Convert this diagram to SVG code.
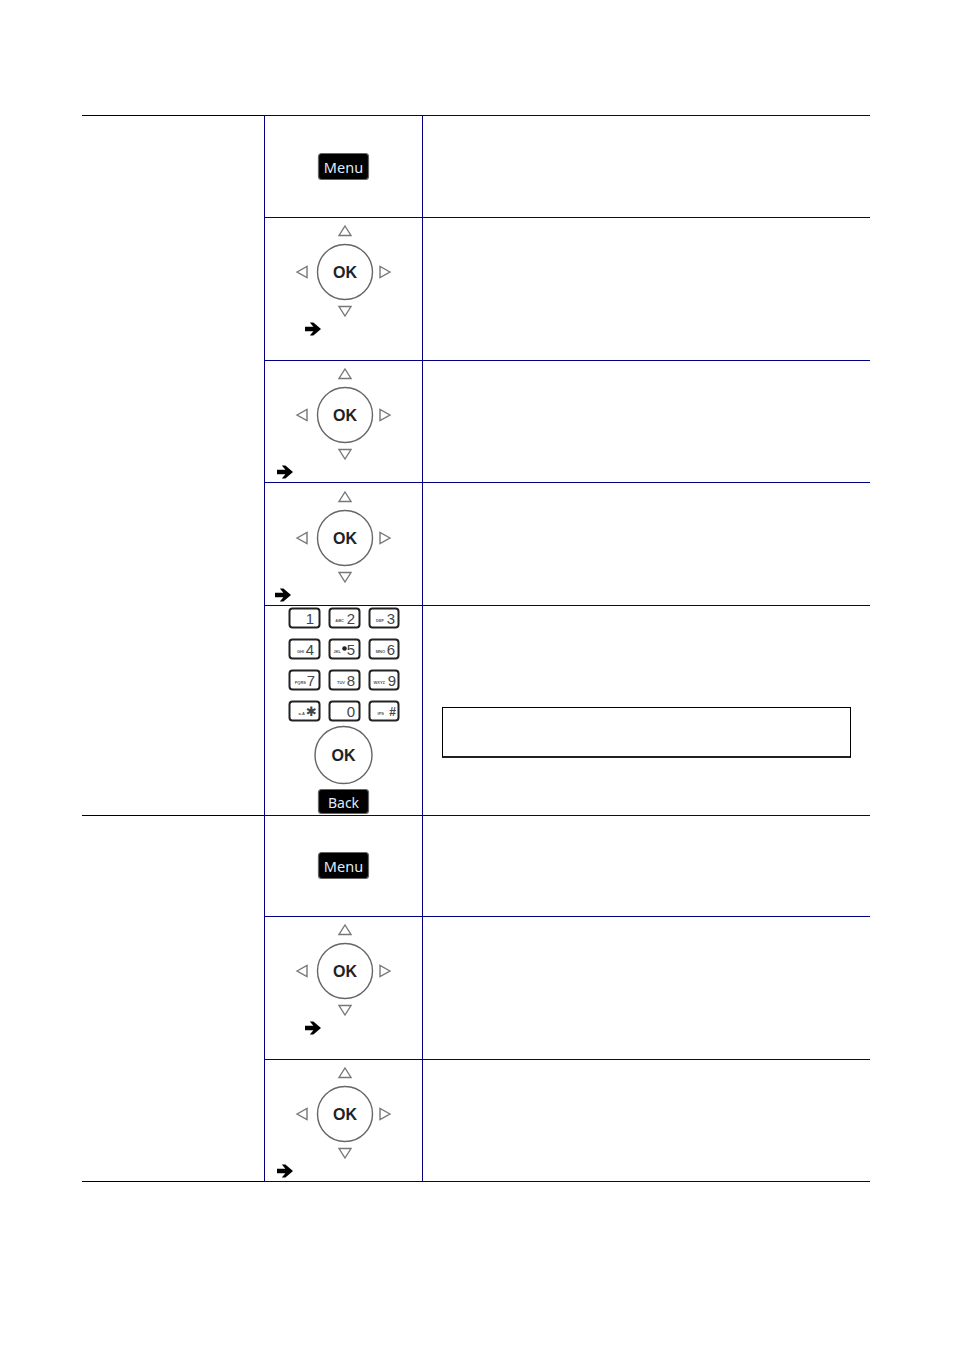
<svg xmlns="http://www.w3.org/2000/svg" width="954" height="1350" viewBox="0 0 954 1350">
<style>
.b{stroke:#000;stroke-width:1;fill:none}
.n{stroke:#000080;stroke-width:1;fill:none}
.ring{fill:#fff;stroke:#666;stroke-width:1.4}
.tri{fill:#fff;stroke:#777;stroke-width:1.4}
.ok{font-family:"Liberation Sans",Arial,sans-serif;font-weight:700;font-size:16px;fill:#222;text-anchor:middle}
.btn{fill:#000;stroke:#666;stroke-width:1.2}
.bt{font-family:"Noto Sans","Open Sans",sans-serif;font-size:14.5px;fill:#dfeafa;text-anchor:middle}
.key{fill:#fff;stroke:#222;stroke-width:2}
.d{font-family:"Liberation Sans",Arial,sans-serif;font-size:15px;fill:#444;text-anchor:end}
.s{font-family:"Liberation Sans",Arial,sans-serif;font-size:4px;font-weight:700;fill:#555;text-anchor:end}
</style>
<defs>
<path id="arrow" d="M-8,-2.2H0.4L-3.2,-6.6H0.4L8,0L0.4,6.6H-3.2L0.4,2.2H-8Z" fill="#000"/>
<g id="dpad">
<circle class="ring" cx="0" cy="0" r="27.5"/>
<text class="ok" x="0" y="5.7">OK</text>
<path class="tri" d="M0,-46L6,-36.5H-6Z"/>
<path class="tri" d="M0,44L6,34.5H-6Z"/>
<path class="tri" d="M-48,0L-38,-5.5V5.5Z"/>
<path class="tri" d="M45,0L35,-5.5V5.5Z"/>
</g>
<g id="menu">
<rect class="btn" x="318.5" y="0.5" width="50" height="26" rx="3"/>
<text class="bt" x="343.5" y="20">Menu</text>
</g>
</defs>
<rect width="954" height="1350" fill="#fff"/>
<g id="connectors">
<path class="b" d="M82,115.5H870M82,815.5H870M82,1181.5H870"/>
<path class="n" d="M264,115.5H870M264,217.5H870M264,360.5H870M264,482.5H870M264,605.5H870M264,815.5H870M264,916.5H870M264,1059.5H870M264,1181.5H870"/>
<path class="n" d="M264.5,115V1182M422.5,115V1182"/>
</g>
<g id="menu-1"><use href="#menu" y="153"/></g>
<g id="dpad-1"><use href="#dpad" x="345" y="272"/><use href="#arrow" x="313" y="329"/></g>
<g id="dpad-2"><use href="#dpad" x="345" y="415"/><use href="#arrow" x="285" y="472"/></g>
<g id="dpad-3"><use href="#dpad" x="345" y="538"/><use href="#arrow" x="283" y="595"/></g>
<g id="keypad">
<rect class="key" x="289.5" y="608.5" width="30" height="19" rx="3"/><text class="d" x="314" y="623.5">1</text>
<rect class="key" x="329.5" y="608.5" width="30" height="19" rx="3"/><text class="s" x="344" y="622">ABC</text><text class="d" x="355" y="623.5">2</text>
<rect class="key" x="369.5" y="608.5" width="29" height="19" rx="3"/><text class="s" x="384" y="622">DEF</text><text class="d" x="395" y="623.5">3</text>
<rect class="key" x="289.5" y="639.5" width="30" height="19" rx="3"/><text class="s" x="304" y="653">GHI</text><text class="d" x="314" y="654.5">4</text>
<rect class="key" x="329.5" y="639.5" width="30" height="19" rx="3"/><text class="s" x="341" y="653">JKL</text><circle cx="344.5" cy="648.5" r="2.3" fill="#222"/><text class="d" x="355" y="654.5">5</text>
<rect class="key" x="369.5" y="639.5" width="29" height="19" rx="3"/><text class="s" x="385" y="653">MNO</text><text class="d" x="395" y="654.5">6</text>
<rect class="key" x="289.5" y="670.5" width="30" height="19" rx="3"/><text class="s" x="306" y="684">PQRS</text><text class="d" x="315" y="685.5">7</text>
<rect class="key" x="329.5" y="670.5" width="30" height="19" rx="3"/><text class="s" x="345" y="684">TUV</text><text class="d" x="355" y="685.5">8</text>
<rect class="key" x="369.5" y="670.5" width="29" height="19" rx="3"/><text class="s" x="385" y="684">WXYZ</text><text class="d" x="396" y="685.5">9</text>
<rect class="key" x="289.5" y="701.5" width="30" height="19" rx="3"/><text class="s" x="305" y="715">a-A</text><text class="d" x="317" y="716" style="font-size:13px;font-family:'DejaVu Sans',sans-serif">✱</text>
<rect class="key" x="329.5" y="701.5" width="30" height="19" rx="3"/><text class="d" x="355" y="716.5">0</text>
<rect class="key" x="369.5" y="701.5" width="29" height="19" rx="3"/><text class="s" x="384" y="715">IPS</text><text class="d" x="396" y="715.5" style="font-size:12px;font-weight:700">#</text>
</g>
<g id="ok-key">
<circle class="ring" cx="343.5" cy="755" r="28.5"/>
<text class="ok" x="343.5" y="760.7">OK</text>
</g>
<g id="back"><rect class="btn" x="318.5" y="789.5" width="50" height="24" rx="3"/><text class="bt" x="343.5" y="807.5" style="font-size:14px">Back</text></g>
<g id="note"><rect x="442.5" y="707.5" width="408" height="49.5" fill="#fff" stroke="#000" stroke-width="1"/><path d="M442,757H851" stroke="#000" stroke-width="1.4"/></g>
<g id="menu-2"><use href="#menu" y="852"/></g>
<g id="dpad-4"><use href="#dpad" x="345" y="971"/><use href="#arrow" x="313" y="1028"/></g>
<g id="dpad-5"><use href="#dpad" x="345" y="1114"/><use href="#arrow" x="285" y="1171"/></g>
</svg>
